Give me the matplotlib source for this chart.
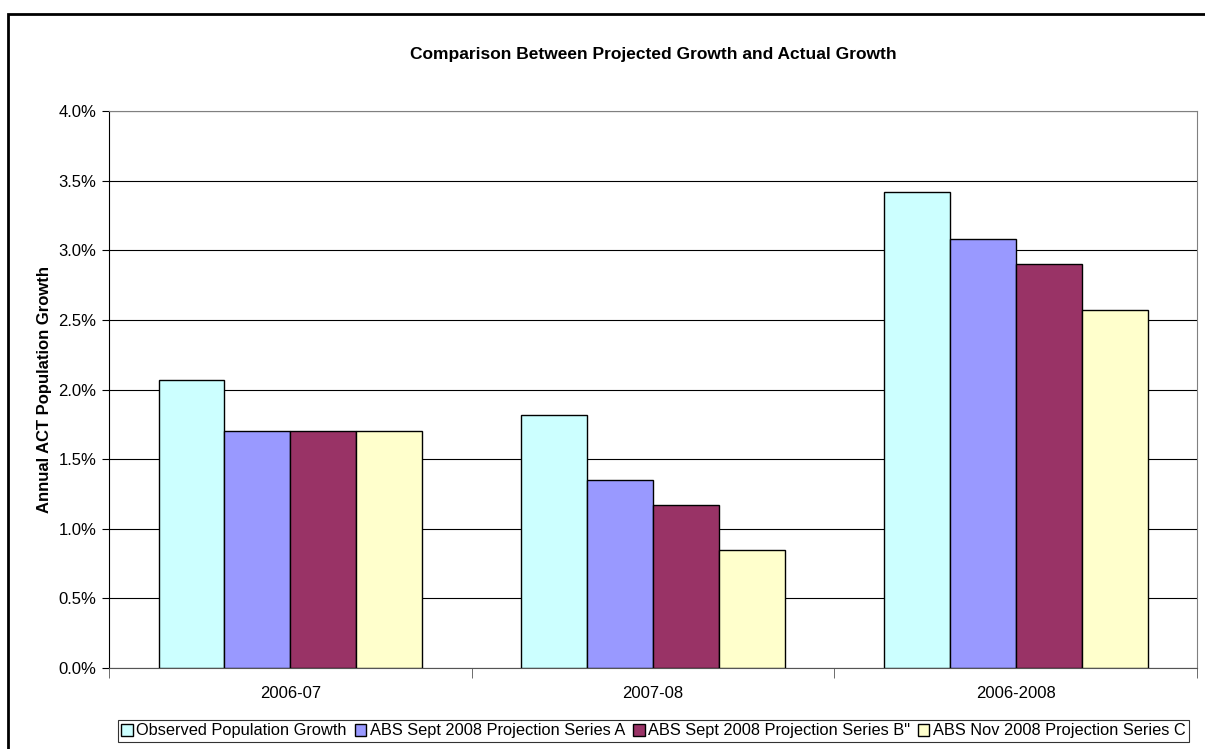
import numpy as np
import matplotlib.pyplot as plt
from matplotlib.patches import Rectangle
from matplotlib.ticker import PercentFormatter

plt.rcParams['font.family'] = ['Liberation Sans', 'DejaVu Sans']

# data (annual growth, %)
periods = ['2006-07', '2007-08', '2006-2008']
observed = [2.07, 1.82, 3.42]
series_a = [1.70, 1.35, 3.08]
series_b = [1.70, 1.17, 2.90]
series_c = [1.70, 0.85, 2.57]
names = ['Observed Population Growth', 'ABS Sept 2008 Projection Series A',
         'ABS Sept 2008 Projection Series B"', 'ABS Nov 2008 Projection Series C']
colors = ['#CCFFFF', '#9999FF', '#993366', '#FFFFCC']

fig = plt.figure(figsize=(12.05, 7.49), dpi=100)
ax = fig.add_axes([0.0905, 0.1081, 0.9029, 0.7437])

# outer chart frame (runs off right/bottom edge like the original)
fig.patches.append(Rectangle((8 / 1205, -0.05), 1.1, 1 - 14 / 749 + 0.05,
                             transform=fig.transFigure, fill=False,
                             edgecolor='black', linewidth=2))

x = np.arange(len(periods))
w = 1 / 5.5
for i, vals in enumerate([observed, series_a, series_b, series_c]):
    ax.bar(x + (i - 1.5) * w, vals, width=w, color=colors[i],
           edgecolor='black', linewidth=1, label=names[i], zorder=3)

ax.set_xlim(-0.5, 2.5)
ax.set_ylim(0, 4)
ax.set_yticks(np.arange(0, 4.01, 0.5))
ax.yaxis.set_major_formatter(PercentFormatter(decimals=1))
ax.grid(axis='y', color='black', linewidth=0.8, zorder=0)
ax.set_xticks(x)
ax.set_xticklabels(periods)
ax.set_xticks([-0.5, 0.5, 1.5, 2.5], minor=True)
ax.tick_params(axis='x', which='major', length=0, pad=13, labelsize=12)
ax.tick_params(axis='x', which='minor', length=7, color='#555555')
ax.tick_params(axis='y', length=5, labelsize=12, pad=4)

for s in ['top', 'right']:
    ax.spines[s].set_color('#808080')
ax.spines['bottom'].set_color('#555555')
ax.spines['left'].set_color('black')

ax.set_ylabel('Annual ACT Population Growth', fontweight='bold', fontsize=12, labelpad=5)
fig.text(0.5423, 1 - 54 / 749, 'Comparison Between Projected Growth and Actual Growth',
         ha='center', va='center', fontsize=12.5, fontweight='bold')

leg = fig.legend(loc='center', bbox_to_anchor=(0.5423, 1 - 731 / 749), ncol=4,
                 fontsize=11.8, frameon=True, fancybox=False, edgecolor='black',
                 handlelength=0.7, handleheight=0.7, handletextpad=0.2,
                 columnspacing=0.5, borderpad=0.2, borderaxespad=0)
leg.get_frame().set_linewidth(0.8)

plt.savefig('out.png', dpi=100)
